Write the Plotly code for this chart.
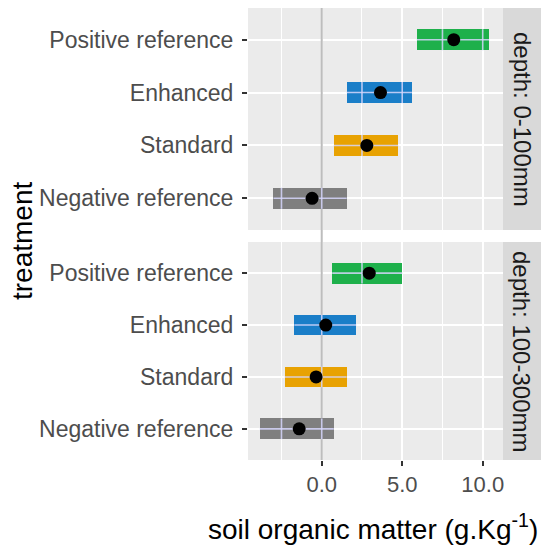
import plotly.graph_objects as go

# Treatments (bottom to top) and their colours
treatments = ["Negative reference", "Standard", "Enhanced", "Positive reference"]
colors = ["#7F7F7F", "#E8A202", "#1A7EC8", "#1EB04B"]

# Depth facets
depths = ["depth: 0-100mm", "depth: 100-300mm"]

# Soil organic matter change (g.Kg-1): estimate and interval, per depth
est_0_100 = [-0.6, 2.8, 3.65, 8.2]
low_0_100 = [-3.0, 0.75, 1.55, 5.9]
high_0_100 = [1.55, 4.75, 5.6, 10.4]

est_100_300 = [-1.4, -0.35, 0.25, 2.95]
low_100_300 = [-3.85, -2.3, -1.7, 0.65]
high_100_300 = [0.75, 1.55, 2.15, 5.0]

x_ticks = [0, 5, 10]
x_minor = [-2.5, 2.5, 7.5]
x_range = [-4.58, 11.26]
y_range = [-0.6, 3.6]

panel_bg = "#EBEBEB"
strip_bg = "#D9D9D9"
font_family = "Liberation Sans, Arial, sans-serif"
grid_overlay = "rgba(214,214,252,0.85)"
zero_color = "#BDBDBD"

fig = go.Figure()

panels = [
    ("x", "y", est_0_100, low_0_100, high_0_100),
    ("x2", "y2", est_100_300, low_100_300, high_100_300),
]

ypos = list(range(len(treatments)))
bar_half = 0.2

for xa, ya, est, low, high in panels:
    # interval bars
    fig.add_trace(go.Bar(
        y=ypos, x=[h - l for l, h in zip(low, high)], base=low,
        orientation="h", width=2 * bar_half,
        marker=dict(color=colors, line=dict(width=0)),
        xaxis=xa, yaxis=ya, showlegend=False, hoverinfo="skip",
    ))
    # grid lines showing over the bars
    lx, ly = [], []
    for i, (l, h) in enumerate(zip(low, high)):
        lx += [l, h, None]
        ly += [i, i, None]
        for t in x_ticks + x_minor:
            if l < t < h:
                lx += [t, t, None]
                ly += [i - bar_half, i + bar_half, None]
    fig.add_trace(go.Scatter(
        x=lx, y=ly, mode="lines", line=dict(color=grid_overlay, width=1.6),
        xaxis=xa, yaxis=ya, showlegend=False, hoverinfo="skip",
    ))
    # point estimates
    fig.add_trace(go.Scatter(
        x=est, y=ypos, mode="markers",
        marker=dict(color="black", size=13, line=dict(width=0)),
        xaxis=xa, yaxis=ya, showlegend=False,
    ))

x_dom = [248 / 542, 503 / 542]
y_top = [318 / 548, 540 / 548]
y_bot = [88 / 548, 306 / 548]

axis_common = dict(
    range=x_range, tickvals=x_ticks, tickformat=".1f",
    showgrid=True, gridcolor="white", gridwidth=2,
    minor=dict(tickvals=x_minor, showgrid=True, gridcolor="white", gridwidth=1.1),
    zeroline=False, showline=False, domain=x_dom, fixedrange=True,
)

yaxis_common = dict(
    range=y_range, tickvals=ypos, ticktext=treatments,
    showgrid=True, gridcolor="white", gridwidth=2,
    zeroline=False, showline=False,
    ticks="outside", ticklen=5, tickwidth=1.5, tickcolor="#333333",
    ticklabelstandoff=4,
    tickfont=dict(size=23, color="#4D4D4D", family=font_family),
    fixedrange=True,
)

fig.update_layout(
    width=542, height=548, autosize=False,
    margin=dict(l=0, r=0, t=0, b=0),
    paper_bgcolor="white", plot_bgcolor=panel_bg,
    bargap=0, barmode="overlay",
    font=dict(family=font_family),
    xaxis=dict(axis_common, anchor="y", showticklabels=False, ticks=""),
    xaxis2=dict(axis_common, anchor="y2", matches="x", showticklabels=True,
                ticks="outside", ticklen=5, tickwidth=1.5, tickcolor="#333333",
                tickfont=dict(size=22, color="#4D4D4D", family=font_family)),
    yaxis=dict(yaxis_common, domain=y_top, anchor="x"),
    yaxis2=dict(yaxis_common, domain=y_bot, anchor="x2"),
)

# reference line at zero, drawn in each panel and through the gap between them
for xa, ya in [("x", "y"), ("x2", "y2")]:
    fig.add_shape(type="line", xref=xa, yref=ya, x0=0, x1=0,
                  y0=y_range[0], y1=y_range[1],
                  line=dict(color=zero_color, width=2), layer="between")
fig.add_shape(type="line", xref="x", yref="paper", x0=0, x1=0,
              y0=y_bot[1], y1=y_top[0],
              line=dict(color=zero_color, width=2), layer="below")

# facet strips
strip_x = [503 / 542, 541 / 542]
for dom, label in zip([y_top, y_bot], depths):
    fig.add_shape(type="rect", xref="paper", yref="paper",
                  x0=strip_x[0], x1=strip_x[1], y0=dom[0], y1=dom[1],
                  fillcolor=strip_bg, line=dict(width=0), layer="above")
    fig.add_annotation(text=label, xref="paper", yref="paper",
                       x=sum(strip_x) / 2, y=sum(dom) / 2, textangle=90,
                       showarrow=False, xanchor="center", yanchor="middle",
                       font=dict(size=24, color="#1A1A1A", family=font_family))

# axis titles
fig.add_annotation(text="soil organic matter (g.Kg<sup>-1</sup>)", xref="paper", yref="paper",
                   x=(207 + 538) / 2 / 542, y=1 - 527 / 548, showarrow=False,
                   xanchor="center", yanchor="middle",
                   font=dict(size=28, color="black", family=font_family))
fig.add_annotation(text="treatment", xref="paper", yref="paper",
                   x=22 / 542, y=1 - 241 / 548, textangle=-90, showarrow=False,
                   xanchor="center", yanchor="middle",
                   font=dict(size=28, color="black", family=font_family))

fig.write_html("out.html")
